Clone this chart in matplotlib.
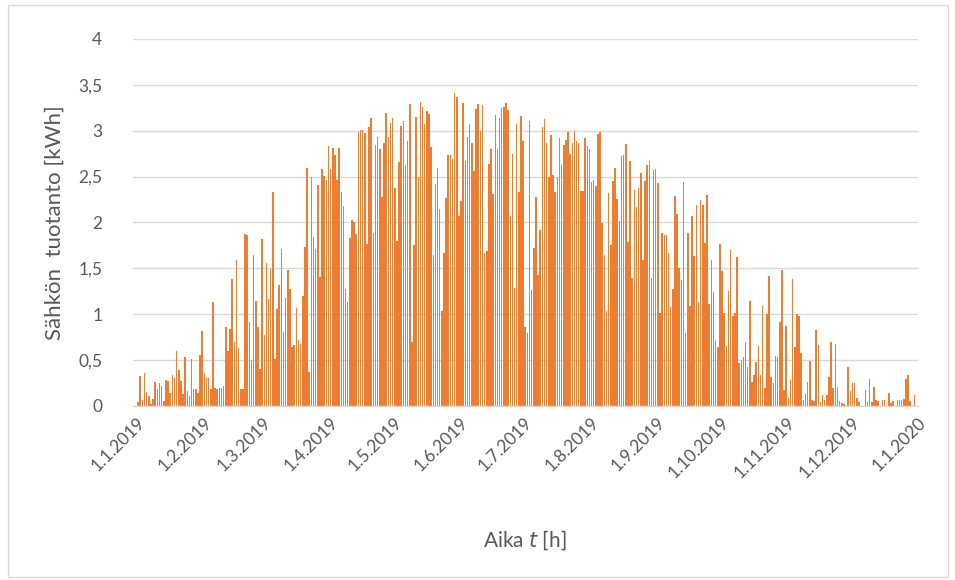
import numpy as np
import pandas as pd
import matplotlib
matplotlib.use("Agg")
import matplotlib.pyplot as plt
from matplotlib.patches import Rectangle
from matplotlib.ticker import FuncFormatter

# daily peak production [kWh]
peaks_jan_feb = [0.04, 0.33, 0.07, 0.36, 0.15, 0.11, 0.02, 0.08, 0.26, 0.19,
                 0.25, 0.22, 0.05, 0.28, 0.27, 0.14, 0.34, 0.30, 0.60, 0.39,
                 0.27, 0.13, 0.53, 0.16, 0.11, 0.51, 0.18, 0.18, 0.14, 0.56,
                 0.82, 0.36, 0.30, 0.30, 0.18, 1.13, 0.20, 0.18, 0.20, 0.20,
                 0.22, 0.86, 0.60, 0.84, 1.38, 0.70, 1.59, 0.63, 0.18, 0.19,
                 1.87, 1.86, 0.92, 0.50, 1.64, 1.14, 0.86, 0.40, 1.82, 0.77,
                 1.56, 1.17]
peaks_mar_apr = [1.49, 2.33, 0.51, 1.06, 1.32, 1.71, 0.81, 1.18, 1.48, 1.27,
                 0.64, 0.66, 1.07, 0.72, 0.68, 1.20, 1.73, 2.59, 0.37, 2.49,
                 1.84, 1.71, 2.41, 1.41, 2.58, 2.51, 2.46, 2.83, 2.58, 2.81,
                 2.73, 2.46, 2.81, 2.33, 2.18, 1.27, 1.13, 1.83, 2.03, 2.01,
                 1.87, 2.99, 3.01, 3.01, 2.97, 1.77, 3.04, 3.14, 1.88, 2.84,
                 2.93, 2.80, 2.28, 2.86, 3.19, 2.93, 3.08, 3.14, 2.37, 1.80,
                 2.66]
peaks_may_jun = [3.05, 3.11, 2.63, 2.89, 3.29, 0.70, 1.75, 3.15, 2.50, 3.31,
                 3.26, 3.07, 3.21, 3.18, 2.82, 1.65, 2.42, 2.59, 2.15, 1.04,
                 1.67, 2.27, 2.74, 2.74, 2.69, 3.41, 3.37, 2.07, 2.23, 3.30,
                 2.67, 2.93, 3.07, 2.87, 2.56, 3.24, 3.29, 3.00, 3.28, 1.67,
                 1.69, 2.64, 2.80, 2.31, 3.17, 2.80, 3.14, 3.25, 3.26, 3.30,
                 3.22, 2.07, 2.75, 1.29, 3.07, 2.33, 3.16, 2.89, 0.86, 0.80,
                 3.10]
peaks_jul_aug = [1.26, 1.72, 2.28, 1.43, 1.92, 3.04, 3.13, 2.86, 2.49, 2.95,
                 2.52, 2.33, 2.49, 2.92, 2.63, 2.84, 2.90, 2.99, 2.75, 2.87,
                 3.00, 2.89, 2.87, 2.34, 2.34, 2.92, 2.83, 2.80, 2.44, 2.46,
                 2.40, 2.96, 2.99, 1.99, 1.65, 1.03, 2.32, 1.75, 2.45, 2.59,
                 2.26, 2.02, 2.72, 2.73, 2.85, 1.79, 2.67, 1.40, 2.35, 2.17,
                 2.38, 2.54, 1.59, 2.45, 2.63, 2.67, 1.40, 2.57, 2.58, 2.43,
                 1.01]
peaks_sep_oct = [1.88, 1.86, 1.86, 1.67, 1.08, 1.28, 2.29, 2.09, 1.50, 1.37,
                 2.44, 0.80, 1.88, 1.09, 2.07, 1.63, 2.19, 1.13, 2.24, 2.19,
                 1.78, 2.30, 1.11, 1.59, 1.24, 0.71, 0.64, 1.76, 1.47, 1.01,
                 0.65, 1.25, 1.70, 0.98, 1.01, 1.62, 0.47, 0.50, 0.53, 0.70,
                 0.42, 1.14, 0.26, 0.34, 0.48, 0.65, 0.34, 1.09, 0.20, 1.00,
                 1.42, 0.32, 0.25, 0.54, 0.53, 0.91, 1.48, 0.17, 0.87, 0.09,
                 0.28]
peaks_nov_dec = [1.38, 0.64, 1.00, 0.98, 0.58, 0.07, 0.13, 0.26, 0.49, 0.06,
                 0.05, 0.83, 0.67, 0.04, 0.12, 0.07, 0.12, 0.32, 0.70, 0.20,
                 0.68, 0.21, 0.05, 0.03, 0.02, 0.00, 0.42, 0.16, 0.25, 0.25,
                 0.09, 0.04, 0.00, 0.00, 0.17, 0.04, 0.29, 0.04, 0.21, 0.07,
                 0.05, 0.00, 0.07, 0.07, 0.00, 0.14, 0.03, 0.05, 0.00, 0.07,
                 0.07, 0.07, 0.08, 0.29, 0.34, 0.05, 0.00, 0.12, 0.00]

month_starts = pd.date_range("2019-01-01", "2020-01-01", freq="MS")
tick_labels = [f"{d.day}.{d.month}.{d.year}" for d in month_starts]
y_ticks = [0, 0.5, 1, 1.5, 2, 2.5, 3, 3.5, 4]

peaks = np.array(peaks_jan_feb + peaks_mar_apr + peaks_may_jun
                 + peaks_jul_aug + peaks_sep_oct + peaks_nov_dec)
days = np.arange(len(peaks)) + 0.5
tick_pos = [(d - month_starts[0]).days for d in month_starts]

plt.rcParams['font.family'] = ['Lato', 'DejaVu Sans']
gray = '#595959'
grid = '#d9d9d9'

fig = plt.figure(figsize=(9.55, 5.8), dpi=100)
fig.add_artist(Rectangle((0.008, 0.006), 0.985, 0.985, transform=fig.transFigure,
                         fill=False, ec=grid, lw=1))
ax = fig.add_axes([0.139, 0.30, 0.822, 0.633])

ax.bar(days, peaks, width=0.72, color='#ED7D31', linewidth=0, zorder=3)

ax.set_xlim(-2, 365)
ax.set_ylim(0, 4)
ax.set_yticks(y_ticks)
ax.yaxis.set_major_formatter(FuncFormatter(lambda v, p: f"{v:g}".replace(".", ",")))
ax.set_xticks(tick_pos)
ax.set_xticklabels(tick_labels, rotation=45, ha='right', va='top',
                   rotation_mode='anchor')
ax.tick_params(length=0, labelsize=12.5, colors=gray)
ax.tick_params(axis='y', pad=22)
ax.tick_params(axis='x', pad=6)
ax.grid(axis='y', color=grid, lw=1, zorder=0)
for s in ['top', 'right', 'left']:
    ax.spines[s].set_visible(False)
ax.spines['bottom'].set_color(grid)
ax.spines['bottom'].set_linewidth(1)
ax.spines['bottom'].set_zorder(4)

ax.set_ylabel("Sähkön  tuotanto [kWh]", fontsize=16, color=gray, labelpad=10)
ax.set_xlabel("Aika $\\it{t}$ [h]", fontsize=15, color=gray, labelpad=34)

fig.savefig("out.png", dpi=100)
